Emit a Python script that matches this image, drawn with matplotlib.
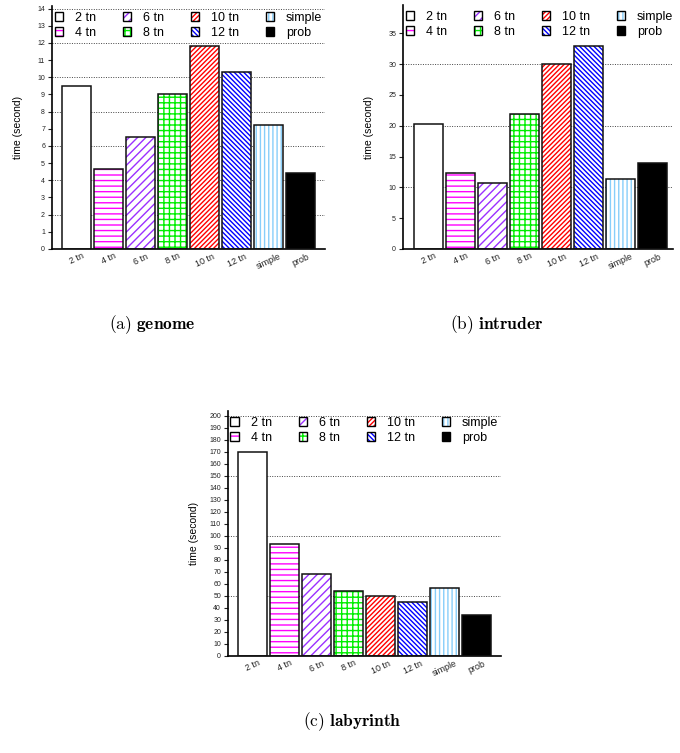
import numpy as np
import matplotlib
matplotlib.use('Agg')
from matplotlib import pyplot as plt
from matplotlib.patches import Patch
from matplotlib.legend_handler import HandlerTuple

# Data (time in seconds)
labels = ['2 tn', '4 tn', '6 tn', '8 tn', '10 tn', '12 tn', 'simple', 'prob']
genome = [9.5, 4.65, 6.5, 9.0, 11.8, 10.3, 7.2, 4.4]
intruder = [20.3, 12.3, 10.7, 21.9, 30.0, 33.0, 11.3, 14.0]
labyrinth = [170, 93, 68, 54.5, 50, 45, 56.5, 34.5]

# Styles
hatch_colors = ['black', '#ff00ff', '#9b30ff', '#00ee00', '#ff0000', '#0000ff', '#87cefa', 'black']
hatches = [None, '---', '////', '+++', '///////', '\\' * 7, '||||', None]
face_colors = ['white'] * 7 + ['black']

plt.rcParams['font.family'] = ['Liberation Sans', 'DejaVu Sans']
plt.rcParams['hatch.linewidth'] = 1.0
plt.rcParams['mathtext.fontset'] = 'cm'

fig = plt.figure(figsize=(6.8, 7.53), dpi=100)

def draw_panel(ax, values, ymax, ystep, gstep, xlim):
    x = np.arange(len(labels))
    for i, v in enumerate(values):
        ax.bar(x[i], v, 0.9, color=face_colors[i], edgecolor=hatch_colors[i],
               hatch=hatches[i], linewidth=0, zorder=2)
        ax.bar(x[i], v, 0.9, fill=False, edgecolor='#111111', linewidth=1.1, zorder=3)
    for g in np.arange(gstep, ymax, gstep):
        ax.axhline(g, color='#444444', linestyle=(0, (1, 1.5)), linewidth=0.7, zorder=1)
    ax.set_xlim(*xlim)
    ax.set_ylim(0, ymax)
    ax.set_yticks(np.arange(0, ymax, ystep))
    ax.set_xticks(x)
    ax.set_xticklabels(labels, rotation=25, ha='center', color='#222222')
    ax.tick_params(axis='x', length=0, labelsize=6.5, pad=2)
    ax.tick_params(axis='y', length=3, width=0.8, labelsize=5, pad=2, colors='#222222')
    ax.spines['top'].set_visible(False)
    ax.spines['right'].set_visible(False)
    ax.spines['left'].set_linewidth(1.2)
    ax.spines['bottom'].set_linewidth(1.2)
    ax.set_ylabel('time (second)', fontsize=7.5)
    w = ax.get_position().width * 680
    ax.yaxis.set_label_coords(-29 / w, 0.5)

    handles = []
    for i in range(len(labels)):
        h1 = Patch(facecolor=face_colors[i], edgecolor=hatch_colors[i], hatch=hatches[i], linewidth=0)
        h2 = Patch(fill=False, edgecolor='black', linewidth=1.0)
        handles.append((h1, h2))
    ax.legend(handles, labels, handler_map={tuple: HandlerTuple(ndivide=1, pad=0)},
              ncol=4, loc='upper left', bbox_to_anchor=(0.0, 0.985), frameon=False,
              fontsize=9, handlelength=0.7, handleheight=0.7, handletextpad=0.95,
              columnspacing=2.1, labelspacing=0.24, borderpad=0.2, borderaxespad=0.0)

ax1 = fig.add_axes([52/680, 1 - 249/753, 273/680, 243/753])
draw_panel(ax1, genome, 14.15, 1, 2, (-0.77, 7.76))

ax2 = fig.add_axes([403/680, 1 - 249/753, 270/680, 244/753])
draw_panel(ax2, intruder, 39.6, 5, 10, (-0.8, 7.64))

ax3 = fig.add_axes([228/680, 1 - 656/753, 273/680, 245/753])
draw_panel(ax3, labyrinth, 204, 10, 50, (-0.77, 7.76))

fig.text(152/680, 1 - 325/753, r'$\mathrm{(a)}\ \mathbf{genome}$', fontsize=12.5, ha='center', va='center')
fig.text(497/680, 1 - 325/753, r'$\mathrm{(b)}\ \mathbf{intruder}$', fontsize=12.5, ha='center', va='center')
fig.text(352/680, 1 - 722/753, r'$\mathrm{(c)}\ \mathbf{labyrinth}$', fontsize=12.5, ha='center', va='center')

fig.savefig('out.png', dpi=100)
